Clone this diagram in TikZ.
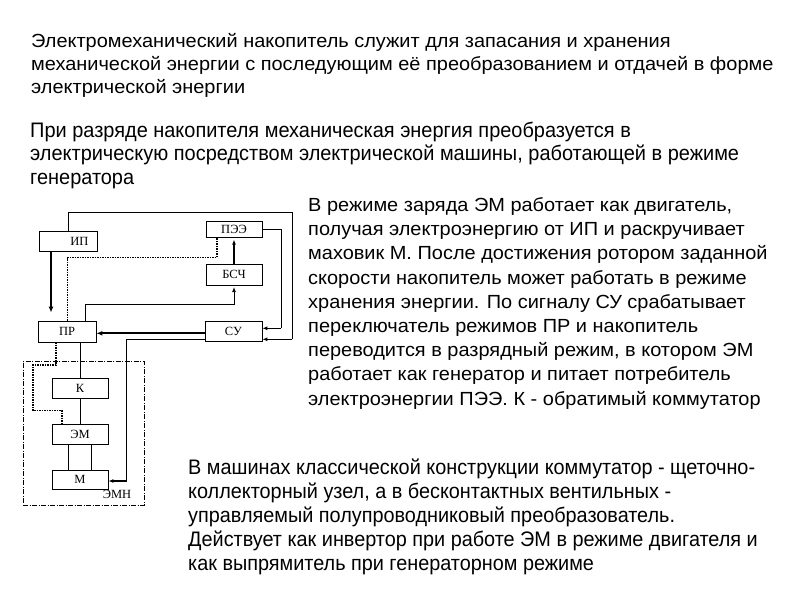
\documentclass[tikz,border=0pt]{standalone}
\usepackage{fontspec}
\setmainfont{Liberation Sans}
\newfontfamily\boxfont{Liberation Serif}
\newfontfamily\widesans[FakeStretch=1.05]{Liberation Sans}
\newfontfamily\rightsans[FakeStretch=1.05]{Liberation Sans}
\newfontfamily\condsans[FakeStretch=0.95]{Liberation Sans}
\newfontfamily\condsansb[FakeStretch=0.945]{Liberation Sans}
\usetikzlibrary{arrows.meta,calc}
\begin{document}
\begin{tikzpicture}[x=1pt,y=-1pt,
 blk/.style={draw, line width=0.8pt, inner sep=0pt, font=\boxfont\fontsize{12.5}{14}\selectfont},
 ln/.style={line width=0.8pt},
 mid/.style={line width=1.5pt},
 thk/.style={line width=2.2pt},
 dsh/.style={line width=1.3pt, dash pattern=on 1.5pt off 1pt},
 emnbox/.style={draw, line width=1pt, dash pattern=on 5pt off 1.5pt on 1pt off 1.5pt, inner sep=0pt},
 tip/.style={-{Latex[length=5pt,width=4pt]}},
 bigtip/.style={-{Latex[length=6pt,width=5pt]}},
 txt/.style={anchor=base west, inner sep=0pt, font=\widesans\fontsize{19}{22}\selectfont},
 ctxt/.style={anchor=base west, inner sep=0pt, font=\condsans\fontsize{21}{22}\selectfont},
 btxt/.style={anchor=base west, inner sep=0pt, font=\condsansb\fontsize{21}{22}\selectfont},
 rtxt/.style={anchor=base west, inner sep=0pt, font=\rightsans\fontsize{19}{22}\selectfont},
 ]
\useasboundingbox (0,0) rectangle (800,600);
\fill[white] (0,0) rectangle (800,600);

% paragraph 1
\node[txt] (p1a) at (31,47) {Электромеханический накопитель служит для запасания и хранения};
\node[txt] (p1b) at (31,70) {механической энергии с последующим её преобразованием и отдачей в форме};
\node[txt] (p1c) at (31,93) {электрической энергии};
% paragraph 2
\node[ctxt] (p2a) at (30,137) {При разряде накопителя механическая энергия преобразуется в};
\node[ctxt] (p2b) at (30,160.5) {электрическую посредством электрической машины, работающей в режиме};
\node[ctxt] (p2c) at (30,184) {генератора};
% right paragraph
\node[rtxt] (r1) at (308,211.5) {В режиме заряда ЭМ работает как двигатель,};
\node[rtxt] (r2) at (308,235.7) {получая электроэнергию от ИП и раскручивает};
\node[rtxt] (r3) at (308,259.9) {маховик М. После достижения ротором заданной};
\node[rtxt] (r4) at (308,284.1) {скорости накопитель может работать в режиме};
\node[rtxt] (r5) at (308,308.3) {хранения энергии. По сигналу СУ срабатывает};
\node[rtxt] (r6) at (308,332.5) {переключатель режимов ПР и накопитель};
\node[rtxt] (r7) at (308,356.7) {переводится в разрядный режим, в котором ЭМ};
\node[rtxt] (r8) at (308,380.9) {работает как генератор и питает потребитель};
\node[rtxt] (r9) at (308,405.1) {электроэнергии ПЭЭ. К - обратимый коммутатор};
% bottom paragraph
\node[btxt] (b1) at (188,474) {В машинах классической конструкции коммутатор - щеточно-};
\node[btxt] (b2) at (188,498) {коллекторный узел, а в бесконтактных вентильных -};
\node[btxt] (b3) at (188,522) {управляемый полупроводниковый преобразователь.};
\node[btxt] (b4) at (188,546) {Действует как инвертор при работе ЭМ в режиме двигателя и};
\node[btxt] (b5) at (188,570) {как выпрямитель при генераторном режиме};

% blocks
\node[blk, minimum width=58pt, minimum height=20pt] (ip) at (68,241) {\hspace*{23pt}ИП};
\node[blk, minimum width=56pt, minimum height=16pt] (pee) at (234,229.7) {ПЭЭ};
\node[blk, minimum width=56pt, minimum height=21pt] (bsc) at (234,274.7) {БСЧ};
\node[blk, minimum width=58pt, minimum height=21pt] (pr) at (67,331.5) {ПР};
\node[blk, minimum width=57pt, minimum height=20pt] (su) at (233.5,331) {СУ};
\node[blk, minimum width=56pt, minimum height=20pt] (k) at (80,388) {К};
\node[blk, minimum width=56pt, minimum height=20pt] (em) at (80,434) {ЭМ};
\node[blk, minimum width=56pt, minimum height=19pt] (m) at (80,479.5) {М};
\node[emnbox, minimum width=121pt, minimum height=143.5pt] (emn) at (83.5,433.25) {};
\node[font=\boxfont\fontsize{12.5}{14}\selectfont, inner sep=0pt] (emnl) at (117,494) {ЭМН};

% connectors
\coordinate (c1) at (292,339.3);
\draw[ln] (ip.north) |- (c1 |- 0,212.5) -- (c1);
\draw[mid,tip] (c1) -- (su.east |- c1);
\coordinate (c2) at (281,328.3);
\draw[ln] (pee.east) -| (c2);
\draw[mid,tip] (c2) -- (su.east |- c2);

\coordinate (a1) at (51,251);
\draw[thk,bigtip,shorten >=8pt] (ip.south -| a1) -- (pr.north -| a1);

\coordinate (d1) at (67.7,257.7);
\coordinate (d2) at (217,257.7);
\draw[dsh] (pr.north -| d1) -- (d1) -- (d2) -- (pee.south -| d2);

\coordinate (e1) at (85,304);
\draw[ln,tip,shorten >=1.5pt] (pr.north -| e1) |- (bsc.south |- e1) -- (bsc.south);
\draw[line width=1.3pt,tip,shorten >=1.5pt] (bsc.north) -- (pee.south);

\coordinate (f1) at (150,333.3);
\draw[thk,bigtip] (su.west |- f1) -- (pr.east |- f1);

\coordinate (g1) at (126.5,339.3);
\coordinate (g2) at (126.5,481);
\draw[ln] (su.west |- g1) -- (g1) -- (g2);
\draw[mid,tip] (g2) -- (m.east |- g2);

\draw[ln] (pr.south -| k.north) -- (k.north);
\draw[ln] (k.south) -- (em.north);
\draw[ln] ($(em.south)+(-12,0)$) -- ($(m.north)+(-12,0)$);
\draw[ln] ($(em.south)+(11,0)$) -- ($(m.north)+(11,0)$);

\coordinate (h1) at (56,365);
\coordinate (h2) at (33,365);
\coordinate (h3) at (33,410.7);
\coordinate (h4) at (62,410.7);
\draw[dsh] (pr.south -| h1) -- (h1) -- (h2) -- (h3) -- (h4) -- (em.north -| h4);
\end{tikzpicture}
\end{document}
